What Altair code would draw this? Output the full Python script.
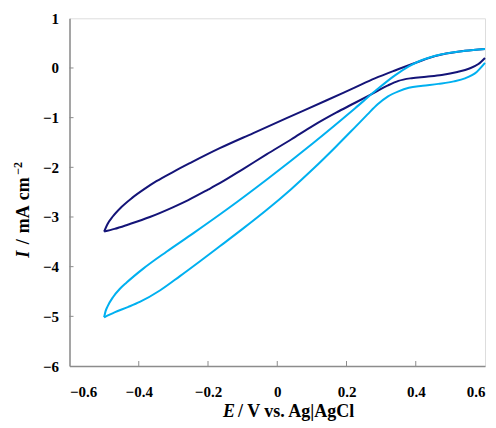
import altair as alt
import pandas as pd

# Cyclic voltammograms (E in V vs. Ag|AgCl, I in mA cm^-2), each branch listed by ascending E
dark_upper_E = [-0.500, -0.490, -0.475, -0.450, -0.420, -0.380, -0.349, -0.300, -0.252, -0.166, -0.069, 0.027, 0.143, 0.225, 0.282, 0.340, 0.408, 0.440, 0.475, 0.542, 0.600]
dark_upper_I = [-3.294, -3.140, -2.990, -2.800, -2.620, -2.420, -2.280, -2.090, -1.915, -1.615, -1.310, -1.010, -0.650, -0.390, -0.210, -0.050, 0.125, 0.205, 0.270, 0.345, 0.383]

dark_lower_E = [-0.500, -0.470, -0.430, -0.368, -0.300, -0.257, -0.200, -0.166, -0.100, -0.031, 0.040, 0.104, 0.170, 0.225, 0.282, 0.320, 0.350, 0.388, 0.430, 0.475, 0.520, 0.555, 0.581, 0.600]
dark_lower_I = [-3.294, -3.240, -3.150, -3.000, -2.800, -2.660, -2.450, -2.320, -2.040, -1.740, -1.440, -1.160, -0.900, -0.700, -0.490, -0.350, -0.260, -0.205, -0.175, -0.140, -0.080, -0.010, 0.080, 0.202]

light_upper_E = [-0.500, -0.496, -0.490, -0.474, -0.455, -0.435, -0.387, -0.320, -0.243, -0.142, -0.031, 0.104, 0.225, 0.282, 0.340, 0.380, 0.408, 0.440, 0.475, 0.542, 0.600]
light_upper_I = [-5.020, -4.900, -4.800, -4.610, -4.450, -4.320, -4.040, -3.700, -3.330, -2.830, -2.250, -1.510, -0.810, -0.470, -0.150, 0.030, 0.130, 0.210, 0.275, 0.345, 0.383]

light_lower_E = [-0.500, -0.470, -0.430, -0.397, -0.339, -0.281, -0.223, -0.166, -0.100, -0.031, 0.040, 0.104, 0.170, 0.225, 0.260, 0.290, 0.320, 0.350, 0.380, 0.420, 0.465, 0.510, 0.542, 0.576, 0.600]
light_lower_I = [-5.020, -4.920, -4.810, -4.710, -4.480, -4.190, -3.890, -3.590, -3.240, -2.860, -2.440, -2.030, -1.580, -1.190, -0.940, -0.730, -0.570, -0.470, -0.400, -0.360, -0.320, -0.270, -0.210, -0.080, 0.101]

x_ticks = [-0.6, -0.4, -0.2, 0.0, 0.2, 0.4, 0.6]
y_ticks = [-6, -5, -4, -3, -2, -1, 0, 1]
x_inner_ticks = [-0.4, -0.2, 0.0, 0.2, 0.4]
y_inner_ticks = [-5, -4, -3, -2, -1, 0]

DARK = "#141478"
LIGHT = "#00b0f0"
W, H = 415.5, 347.7
FONT = "Liberation Serif"

rows = []
for name, loop, Es, Is in [("du", "dark", dark_upper_E, dark_upper_I),
                           ("dl", "dark", dark_lower_E, dark_lower_I),
                           ("lu", "light", light_upper_E, light_upper_I),
                           ("ll", "light", light_lower_E, light_lower_I)]:
    for e, c in zip(Es, Is):
        rows.append({"E": e, "I": c, "branch": name, "loop": loop})
df = pd.DataFrame(rows)

xs = alt.Scale(domain=[-0.6, 0.6], nice=False, zero=False)
ys = alt.Scale(domain=[-6, 1], nice=False, zero=False)

lines = alt.Chart(df).mark_line(strokeWidth=2, interpolate="monotone").encode(
    x=alt.X("E:Q", scale=xs, axis=alt.Axis(
        values=x_ticks, title=None, tickSize=0, labelPadding=18, grid=False,
        labelExpr="datum.value == 0 ? '0' : format(datum.value, '.1f')",
        labelFont=FONT, labelFontSize=15, labelFontWeight="bold", labelColor="black",
        domainColor="#8c8c8c", domainWidth=1.5)),
    y=alt.Y("I:Q", scale=ys, axis=alt.Axis(
        values=y_ticks, title=None, tickSize=0, labelPadding=11, grid=False, format="d",
        labelFont=FONT, labelFontSize=15, labelFontWeight="bold", labelColor="black",
        domainColor="#8c8c8c", domainWidth=1.5)),
    color=alt.Color("loop:N", scale=alt.Scale(domain=["dark", "light"], range=[DARK, LIGHT]), legend=None),
    detail="branch:N",
    order="E:Q",
)

xt = alt.Chart(pd.DataFrame({"v": x_inner_ticks})).mark_rule(color="#8c8c8c", strokeWidth=1).encode(
    x=alt.X("v:Q", scale=xs), y=alt.value(H), y2=alt.value(H - 5))
yt = alt.Chart(pd.DataFrame({"v": y_inner_ticks})).mark_rule(color="#8c8c8c", strokeWidth=1).encode(
    y=alt.Y("v:Q", scale=ys), x=alt.value(0), x2=alt.value(4))

def label(text, x, y, size=18, style="normal", angle=0):
    return alt.Chart(pd.DataFrame({"t": [text]})).mark_text(
        font=FONT, fontSize=size, fontWeight="bold", fontStyle=style, align="left",
        baseline="middle", angle=angle, color="black").encode(
        text="t:N", x=alt.value(x), y=alt.value(y))

# axis titles (positions relative to the plot area's top-left corner)
xtitle1 = label("E", 153.5, 393.5, style="italic")
xtitle2 = label("/ V vs. Ag|AgCl", 168.5, 393.5)
ytitle1 = label("I", -45.5, 239.5, style="italic", angle=270)
ytitle2 = label("/", -45.5, 226, angle=270)
ytitle3 = label("mA", -45.5, 215, angle=270)
ytitle4 = label("cm", -45.5, 182, angle=270)
ytitle5 = label("\u22122", -51.5, 156.5, size=12, angle=270)

chart = alt.layer(lines, xt, yt, xtitle1, xtitle2, ytitle1, ytitle2, ytitle3, ytitle4, ytitle5).properties(
    width=W, height=H,
    autosize=alt.AutoSizeParams(type="none"),
    padding={"left": 61.5, "top": 10.3, "right": 3, "bottom": 62},
).configure_view(stroke="#b4b4b4", strokeWidth=1.5).configure(background="white")

chart.save("out.html", embed_options={"renderer": "svg", "actions": False})
